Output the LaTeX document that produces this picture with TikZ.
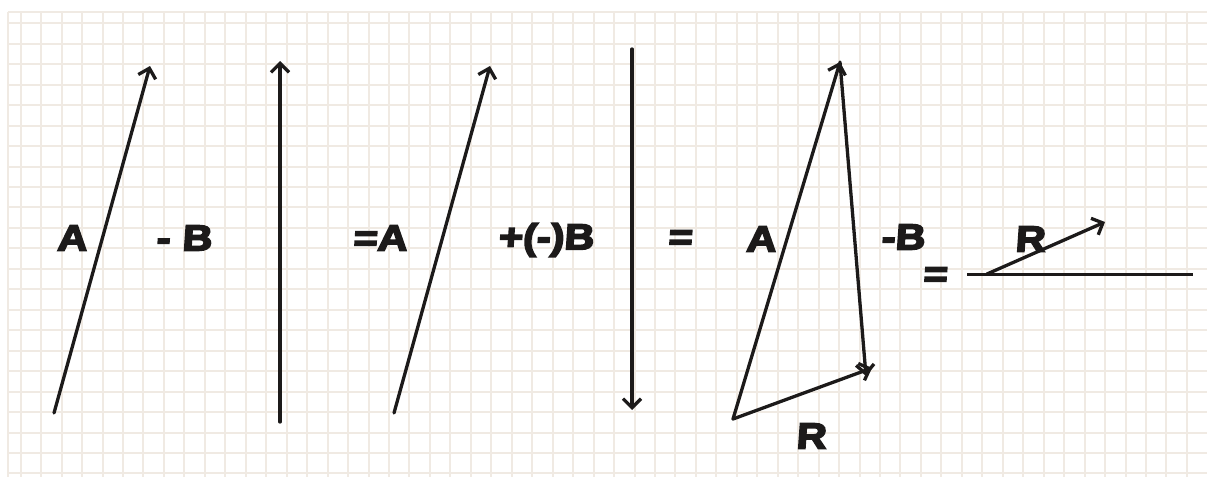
\documentclass[tikz,border=0pt]{standalone}
\usepackage{fontspec}
\newfontfamily\heavy{Liberation Sans Bold}[FakeBold=5, FakeSlant=0.07, FakeStretch=1.15]
\usetikzlibrary{arrows.meta}
\definecolor{gridc}{HTML}{F0EAE3}
\definecolor{ink}{HTML}{1C1A1A}
\tikzset{
  vec/.style={draw=ink, line width=3.3pt, -{Straight Barb[length=9pt,width=18pt]}, line cap=round},
  seg/.style={draw=ink, line width=3pt},
  lab/.style={text=ink, font=\heavy\fontsize{36}{36}\selectfont, inner sep=0pt, anchor=center},
}
\begin{document}
\begin{tikzpicture}[x=1pt, y=-1pt]
\useasboundingbox (0,0) rectangle (1207,477);
\fill[white] (0,0) rectangle (1207,477);
% grid
\begin{scope}[gridc, line width=2pt]
\draw (8,12) -- (8,477);
\draw (8,12) -- (1207,12);
\foreach \i in {0,...,57} \draw ({20.7+20.46*\i},12) -- ({20.7+20.46*\i},477);
\foreach \j in {0,...,22} \draw (8,{23.3+20.46*\j}) -- (1207,{23.3+20.46*\j});
\end{scope}
% vector A (first)
\coordinate (a1s) at (54,413);
\coordinate (a1e) at (150,66);
\draw[vec] (a1s) -- (a1e);
% vector B up
\coordinate (b1s) at (280,422);
\coordinate (b1e) at (280,61);
\draw[vec] (b1s) -- (b1e);
% vector A (second)
\coordinate (a2s) at (394,413);
\coordinate (a2e) at (490,66);
\draw[vec] (a2s) -- (a2e);
% vector -B down
\coordinate (b2s) at (632,49);
\coordinate (b2e) at (632,410);
\draw[vec] (b2s) -- (b2e);
% triangle
\coordinate (o) at (733,419);
\coordinate (ta) at (840,62);
\coordinate (tb) at (866,376);
\coordinate (tr) at (872,368);
\draw[vec] (o) -- (ta);
\draw[vec] (ta) -- (tb);
\draw[vec] (o) -- (tr);
% last
\coordinate (hl) at (967,274);
\coordinate (hr) at (1193,274);
\coordinate (ro) at (987,274);
\coordinate (re) at (1105,222);
\draw[seg] (hl) -- (hr);
\draw[vec] (ro) -- (re);
% labels
\node[lab] (lA1) at (72,238) {A};
\node[lab] (lB1) at (184,238) {-\hspace{12pt}B};
\node[lab] (lA2) at (380,238) {=A};
\node[lab] (lB2) at (546,240) {+(-)B};
\node[lab] (leq1) at (680,240) {=};
\node[lab] (lA3) at (761,239) {A};
\node[lab] (lB3) at (903,237) {-B};
\node[lab] (leq2) at (935,277) {=};
\node[lab] (lR1) at (1030,239) {R};
\node[lab] (lR2) at (811,436) {R};
\end{tikzpicture}
\end{document}
